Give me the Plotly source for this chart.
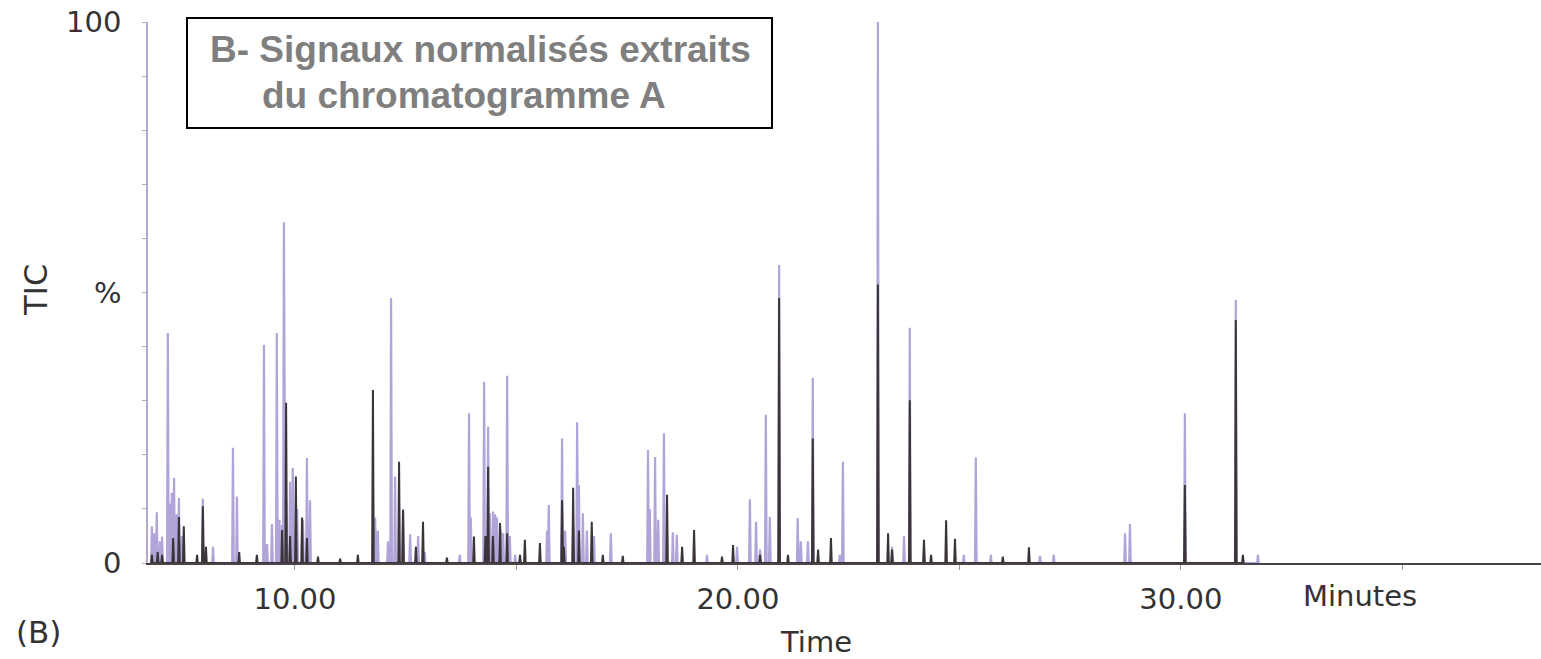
import plotly.graph_objects as go

# ---- data (retention time in minutes, relative intensity in %) ----
purple_t = [6.77, 6.82, 6.88, 6.95, 7.00, 7.13, 7.18, 7.22, 7.27, 7.33, 7.38, 7.45,
            7.92, 8.15, 8.60, 8.69, 9.30, 9.37, 9.48, 9.59, 9.65, 9.71, 9.75, 9.80,
            9.89, 9.95, 10.05, 10.18, 10.27, 10.34, 11.81, 11.87, 12.10, 12.17, 12.26,
            12.44, 12.60, 12.78, 12.93, 13.72, 13.93, 13.97, 14.27, 14.36, 14.40, 14.47,
            14.52, 14.56, 14.65, 14.70, 14.79, 14.85, 14.97, 15.69, 15.73, 16.03, 16.10,
            16.28, 16.37, 16.41, 16.50, 16.59, 16.75, 17.13, 17.97, 18.01, 18.13, 18.20,
            18.33, 18.53, 18.62, 19.30, 19.98, 20.27, 20.41, 20.50, 20.63, 20.72, 20.93,
            21.35, 21.42, 21.58, 21.69, 22.30, 22.37, 23.16, 23.48, 23.75, 23.88, 24.20,
            25.10, 25.37, 25.71, 26.82, 27.13, 28.74, 28.85, 30.09, 31.24, 31.74]
purple_h = [6.8, 5.5, 9.4, 4.0, 4.9, 42.5, 11.0, 13.0, 15.7, 9.0, 12.0, 5.0,
            11.9, 3.0, 21.3, 12.3, 40.3, 3.5, 7.2, 42.5, 8.0, 7.0, 63.0, 12.0,
            15.0, 17.6, 10.0, 8.0, 19.4, 11.6, 8.4, 6.0, 4.0, 49.0, 16.0,
            10.0, 5.3, 5.0, 2.0, 1.5, 27.7, 8.4, 33.5, 25.2, 9.2, 9.5,
            9.0, 8.4, 6.0, 5.5, 34.6, 5.0, 1.5, 6.0, 10.7, 23.0, 6.0,
            7.0, 26.0, 14.4, 9.2, 6.0, 5.0, 5.5, 20.9, 10.0, 19.6, 8.0,
            24.0, 5.7, 5.2, 1.5, 3.0, 11.8, 7.6, 2.5, 27.4, 8.5, 55.1,
            8.3, 4.0, 4.0, 34.2, 1.5, 18.7, 100.0, 3.0, 5.0, 43.5, 2.0,
            1.5, 19.5, 1.5, 1.3, 1.5, 5.5, 7.2, 27.7, 48.6, 1.5]

dark_t = [6.77, 6.90, 7.00, 7.25, 7.38, 7.49, 7.79, 7.92, 7.99, 8.74, 9.14, 9.71,
          9.80, 9.89, 10.02, 10.16, 10.27, 10.52, 11.02, 11.42, 11.76, 12.35, 12.44,
          12.73, 12.89, 13.43, 14.04, 14.30, 14.36, 14.47, 14.63, 14.79, 15.08, 15.19,
          15.53, 16.03, 16.07, 16.28, 16.41, 16.70, 16.95, 17.40, 18.40, 18.74, 19.01,
          19.64, 19.89, 20.50, 20.93, 21.13, 21.69, 21.81, 22.10, 23.16, 23.39, 23.48,
          23.88, 24.20, 24.36, 24.70, 24.90, 25.98, 26.57, 30.09, 31.24, 31.40]
dark_h = [1.5, 2.0, 1.5, 4.6, 8.5, 6.8, 1.5, 10.5, 3.0, 2.0, 1.5, 6.1,
          29.6, 5.0, 16.0, 8.4, 4.6, 1.2, 0.8, 1.5, 32.0, 18.7, 9.8,
          3.0, 7.6, 1.0, 4.9, 5.0, 17.8, 5.0, 7.4, 5.5, 1.5, 4.3,
          3.7, 11.6, 3.0, 13.9, 6.0, 7.6, 1.5, 1.3, 12.6, 3.0, 6.1,
          1.2, 3.3, 1.5, 49.0, 1.5, 23.0, 2.5, 4.6, 51.5, 5.5, 2.5,
          30.1, 4.3, 1.5, 7.9, 4.5, 1.2, 2.9, 14.4, 44.9, 1.5]

x_tickvals = [10, 20, 30]
x_ticktext = ["10.00", "20.00", "30.00"]
y_tickvals = [0, 50, 100]
y_ticktext = ["0", "%", "100"]

X_RANGE = [6.682, 38.13]
HALF_W = 0.018


def spikes(ts, hs):
    pairs = sorted(zip(ts, hs))
    xs, ys = [], []
    for t, h in pairs:
        xs += [t - HALF_W, t, t + HALF_W]
        ys += [0, h, 0]
    return xs, ys


px_, py_ = spikes(purple_t, purple_h)
dx_, dy_ = spikes(dark_t, dark_h)

fig = go.Figure()
fig.add_trace(go.Scatter(x=px_, y=py_, mode="lines",
                         line=dict(color="#b0a4d9", width=2.2),
                         hoverinfo="skip", showlegend=False))
fig.add_trace(go.Scatter(x=dx_, y=dy_, mode="lines",
                         line=dict(color="#3b3438", width=2.0),
                         hoverinfo="skip", showlegend=False))

W, H = 1541, 659
L, R, T, B = 148, 0, 22, 96
pw, ph = W - L - R, H - T - B


def pxx(x):
    return (x - L) / pw


def pxy(y):
    return (H - B - y) / ph


FONT = "DejaVu Sans"
FS = 29
fig.update_layout(
    width=W, height=H,
    margin=dict(l=L, r=R, t=T, b=B, pad=0),
    paper_bgcolor="white", plot_bgcolor="white",
    xaxis=dict(range=X_RANGE, tickvals=x_tickvals, ticktext=x_ticktext,
               showgrid=False, zeroline=False, showline=True,
               linecolor="#4a4448", linewidth=1.5,
               ticks="outside", ticklen=5, tickcolor="#999",
               minor=dict(dtick=5, tick0=0, ticks="outside", ticklen=5, tickcolor="#999"),
               tickfont=dict(family=FONT, size=FS, color="#333"),
               ticklabelstandoff=4,
               ),
    yaxis=dict(range=[0, 100], tickvals=y_tickvals, ticktext=y_ticktext,
               showgrid=False, zeroline=False, showline=True,
               linecolor="#b4aac8", linewidth=1.5,
               ticks="outside", ticklen=4, tickcolor="#b4aac8",
               minor=dict(dtick=10, tick0=0, ticks="outside", ticklen=4, tickcolor="#b4aac8"),
               tickfont=dict(family=FONT, size=FS, color="#333"),
               ticklabelstandoff=15,
               ),
)

ann_font = dict(family=FONT, size=FS, color="#333")


def label(x, y, text, **kw):
    fig.add_annotation(x=pxx(x), y=pxy(y), xref="paper", yref="paper",
                       xanchor="center", yanchor="middle",
                       text=text, showarrow=False, font=kw.pop("font", ann_font), **kw)


label(1360, 596, "Minutes")
label(816, 642, "Time")
label(38, 632, "(B)", font=dict(family=FONT, size=31, color="#333"))
label(36, 290, "TIC", textangle=-90, font=dict(family=FONT, size=32, color="#333"))

# title box
fig.add_shape(type="rect", xref="paper", yref="paper",
              x0=pxx(187), x1=pxx(772), y0=pxy(128), y1=pxy(18),
              line=dict(color="black", width=2), fillcolor="white", layer="above")
tfont = dict(family="Liberation Sans", size=37, color="#7f7f7f")
fig.add_annotation(x=pxx(208), y=pxy(50), xref="paper", yref="paper",
                   xanchor="left", yanchor="middle",
                   text="<b>B- Signaux normalisés extraits</b>", showarrow=False, font=tfont)
fig.add_annotation(x=pxx(260), y=pxy(95), xref="paper", yref="paper",
                   xanchor="left", yanchor="middle",
                   text="<b>du chromatogramme A</b>", showarrow=False, font=tfont)

fig.write_html("out.html", config={"displayModeBar": False},
               post_script="document.body.style.margin='0';document.body.style.overflow='hidden';")
